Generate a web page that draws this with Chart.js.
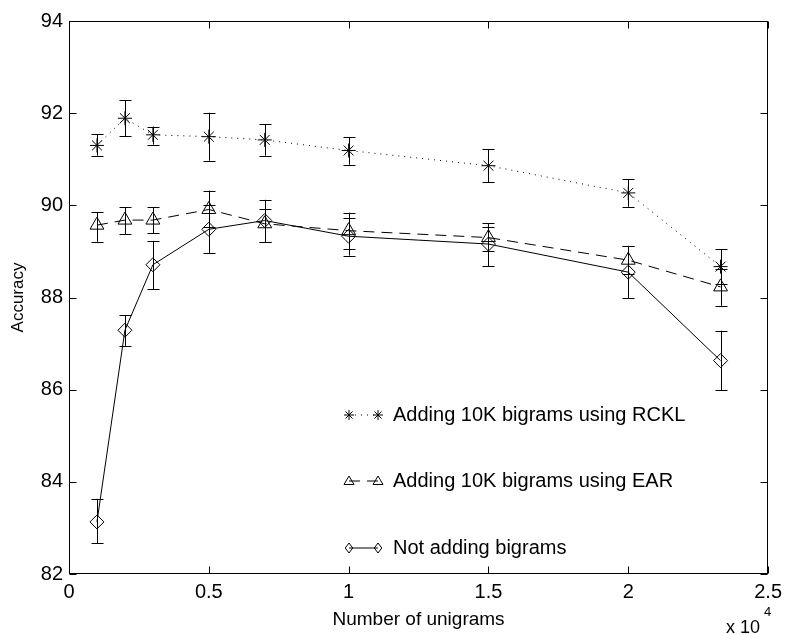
<!DOCTYPE html>
<html>
<head>
<meta charset="utf-8">
<script src="https://cdn.jsdelivr.net/npm/chart.js@4.4.1/dist/chart.umd.min.js"></script>
<style>
  html, body { margin: 0; padding: 0; background: #fff; }
</style>
</head>
<body>
<canvas id="accChart" width="788" height="635"></canvas>
<script>
"use strict";

// number of unigrams, in units of 10^4
var unigrams = [0.1, 0.2, 0.3, 0.5, 0.7, 1.0, 1.5, 2.0, 2.33];

// Adding 10K bigrams using RCKL
var rcklMean = [91.30, 91.89, 91.53, 91.49, 91.42, 91.19, 90.86, 90.27, 88.67];
var rcklHigh = [91.54, 92.28, 91.71, 92.01, 91.76, 91.48, 91.22, 90.57, 89.05];
var rcklLow  = [91.08, 91.50, 91.32, 90.97, 91.08, 90.88, 90.50, 89.97, 88.30];

// Adding 10K bigrams using EAR
var earMean = [89.57, 89.68, 89.68, 89.91, 89.60, 89.45, 89.30, 88.81, 88.23];
var earHigh = [89.85, 89.96, 89.96, 90.32, 90.12, 89.84, 89.61, 89.12, 88.62];
var earLow  = [89.21, 89.37, 89.39, 89.52, 89.21, 89.05, 89.00, 88.50, 87.82];

// Not adding bigrams
var plainMean = [83.13, 87.29, 88.71, 89.48, 89.67, 89.33, 89.16, 88.55, 86.63];
var plainHigh = [83.63, 87.62, 89.23, 90.00, 89.92, 89.72, 89.52, 89.12, 87.28];
var plainLow  = [82.67, 86.95, 88.18, 88.97, 89.21, 88.91, 88.68, 87.98, 85.99];

var seriesNames = ["Adding 10K bigrams using RCKL", "Adding 10K bigrams using EAR", "Not adding bigrams"];
var xTicks = [0, 0.5, 1, 1.5, 2, 2.5];
var yTicks = [82, 84, 86, 88, 90, 92, 94];

var FONT = "'Liberation Sans', Arial, Helvetica, sans-serif";

function toPoints(xs, ys) {
    var pts = [];
    for (var i = 0; i < xs.length; i++) {
        pts.push({ x: xs[i], y: ys[i] });
    }
    return pts;
}

// simple marker drawing for the legend samples
function drawMarker(ctx, style, x, y, r) {
    ctx.beginPath();
    if (style === "star") {
        var d = r * 0.707;
        ctx.moveTo(x - r, y); ctx.lineTo(x + r, y);
        ctx.moveTo(x, y - r); ctx.lineTo(x, y + r);
        ctx.moveTo(x - d, y - d); ctx.lineTo(x + d, y + d);
        ctx.moveTo(x - d, y + d); ctx.lineTo(x + d, y - d);
    } else if (style === "triangle") {
        ctx.moveTo(x, y - r);
        ctx.lineTo(x + r, y + r * 0.7);
        ctx.lineTo(x - r, y + r * 0.7);
        ctx.closePath();
    } else {
        ctx.moveTo(x, y - r);
        ctx.lineTo(x + r * 0.75, y);
        ctx.lineTo(x, y + r);
        ctx.lineTo(x - r * 0.75, y);
        ctx.closePath();
    }
    ctx.stroke();
}

// error bars, box, inner ticks, legend and the x 10^4 note
var matlabLook = {
    id: "matlabLook",
    beforeDatasetsDraw: function (chart) {
        var ctx = chart.ctx;
        var xs = chart.scales.x, ys = chart.scales.y;
        ctx.save();
        ctx.strokeStyle = "#000";
        ctx.lineWidth = 1;
        chart.data.datasets.forEach(function (ds) {
            for (var i = 0; i < ds.data.length; i++) {
                var px = Math.round(xs.getPixelForValue(ds.data[i].x)) + 0.5;
                var top = ys.getPixelForValue(ds.errHigh[i]);
                var bot = ys.getPixelForValue(ds.errLow[i]);
                ctx.beginPath();
                ctx.moveTo(px, top); ctx.lineTo(px, bot);
                ctx.moveTo(px - 6, Math.round(top) + 0.5); ctx.lineTo(px + 6, Math.round(top) + 0.5);
                ctx.moveTo(px - 6, Math.round(bot) + 0.5); ctx.lineTo(px + 6, Math.round(bot) + 0.5);
                ctx.stroke();
            }
        });
        ctx.restore();
    },
    afterDraw: function (chart) {
        var ctx = chart.ctx;
        var a = chart.chartArea;
        var xs = chart.scales.x, ys = chart.scales.y;
        var L = Math.round(a.left) + 0.5, R = Math.round(a.right) - 0.5;
        var T = Math.round(a.top) + 0.5, B = Math.round(a.bottom) - 0.5;
        ctx.save();
        ctx.strokeStyle = "#000";
        ctx.lineWidth = 1;
        ctx.setLineDash([]);
        ctx.strokeRect(L, T, R - L, B - T);

        // inner ticks on all four sides
        ctx.beginPath();
        xTicks.forEach(function (v) {
            var px = Math.round(xs.getPixelForValue(v)) + 0.5;
            ctx.moveTo(px, B); ctx.lineTo(px, B - 7);
            ctx.moveTo(px, T); ctx.lineTo(px, T + 7);
        });
        yTicks.forEach(function (v) {
            var py = Math.round(ys.getPixelForValue(v)) + 0.5;
            ctx.moveTo(L, py); ctx.lineTo(L + 7, py);
            ctx.moveTo(R, py); ctx.lineTo(R - 7, py);
        });
        ctx.stroke();

        // legend inside the axes
        var rows = [415, 481, 548];
        chart.data.datasets.forEach(function (ds, i) {
            var y = rows[i];
            ctx.setLineDash(ds.borderDash || []);
            ctx.beginPath();
            ctx.moveTo(349, y); ctx.lineTo(378, y);
            ctx.stroke();
            ctx.setLineDash([]);
            drawMarker(ctx, ds.pointStyle, 349, y, 5);
            drawMarker(ctx, ds.pointStyle, 378, y, 5);
            ctx.fillStyle = "#000";
            ctx.font = "20px " + FONT;
            ctx.textBaseline = "middle";
            ctx.textAlign = "left";
            ctx.fillText(ds.label, 393, y);
        });

        // exponent note under the x axis
        ctx.font = "18px " + FONT;
        ctx.textBaseline = "alphabetic";
        ctx.fillText("x 10", 726, 633);
        ctx.font = "13px " + FONT;
        ctx.fillText("4", 764, 616);
        ctx.restore();
    }
};

var ctx = document.getElementById("accChart").getContext("2d");
var chart = new Chart(ctx, {
    type: "line",
    data: {
        datasets: [{
            label: seriesNames[0],
            data: toPoints(unigrams, rcklMean),
            errHigh: rcklHigh,
            errLow: rcklLow,
            borderDash: [1, 5],
            pointStyle: "star",
            pointRadius: 7
        }, {
            label: seriesNames[1],
            data: toPoints(unigrams, earMean),
            errHigh: earHigh,
            errLow: earLow,
            borderDash: [11, 7],
            pointStyle: "triangle",
            pointRadius: 8
        }, {
            label: seriesNames[2],
            data: toPoints(unigrams, plainMean),
            errHigh: plainHigh,
            errLow: plainLow,
            borderDash: [],
            pointStyle: "rectRot",
            pointRadius: 7
        }]
    },
    options: {
        responsive: false,
        animation: false,
        layout: { padding: { top: 21, right: 16, left: 0, bottom: 0 } },
        elements: {
            line: { borderColor: "#000", borderWidth: 1, tension: 0, fill: false },
            point: { borderColor: "#000", backgroundColor: "rgba(0,0,0,0)", borderWidth: 1, hoverRadius: 7 }
        },
        plugins: { legend: { display: false }, tooltip: { enabled: false } },
        scales: {
            x: {
                type: "linear",
                min: 0,
                max: 2.5,
                grid: { display: false, drawTicks: false },
                border: { display: false },
                afterFit: function (s) { s.height = 61; },
                afterBuildTicks: function (s) { s.ticks = xTicks.map(function (v) { return { value: v }; }); },
                ticks: {
                    color: "#000", padding: 6, maxRotation: 0,
                    font: { family: FONT, size: 20 },
                    callback: function (v) { return String(v); }
                },
                title: { display: true, text: "Number of unigrams", color: "#000", padding: { top: 2, bottom: 4 }, font: { family: FONT, size: 19 } }
            },
            y: {
                min: 82,
                max: 94,
                grid: { display: false, drawTicks: false },
                border: { display: false },
                afterFit: function (s) { s.width = 69; },
                afterBuildTicks: function (s) { s.ticks = yTicks.map(function (v) { return { value: v }; }); },
                ticks: { color: "#000", padding: 6, font: { family: FONT, size: 20 } },
                title: { display: true, text: "Accuracy", color: "#000", padding: { bottom: 0, top: 8 }, font: { family: FONT, size: 17 } }
            }
        }
    },
    plugins: [matlabLook]
});
</script>
</body>
</html>
